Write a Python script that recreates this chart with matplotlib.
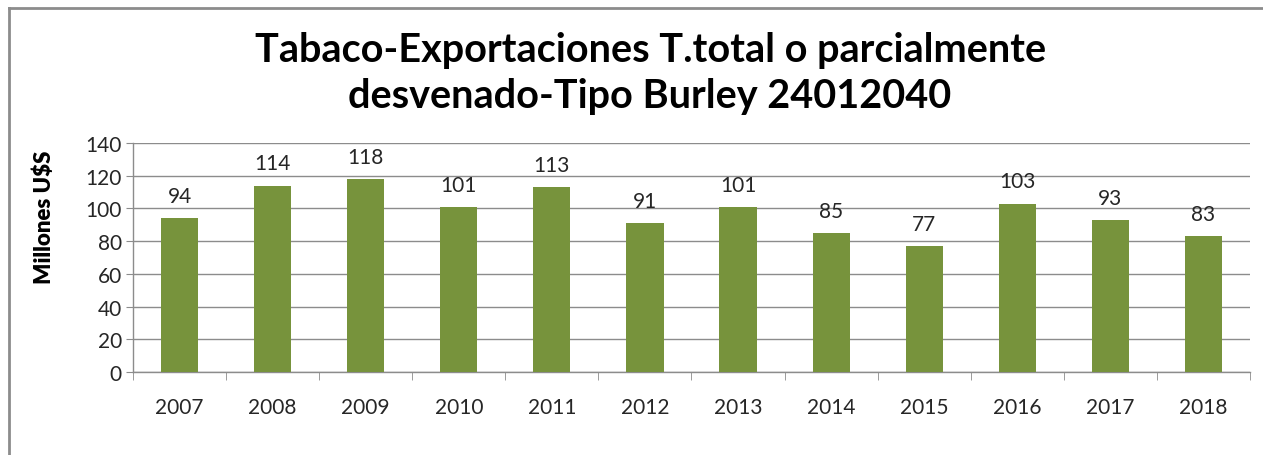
import matplotlib
matplotlib.use('Agg')
import matplotlib.pyplot as plt
from matplotlib.lines import Line2D
import numpy as np

plt.rcParams['font.family'] = ['Lato', 'DejaVu Sans']

# Datos
anios = ['2007', '2008', '2009', '2010', '2011', '2012',
         '2013', '2014', '2015', '2016', '2017', '2018']
valores = [94, 114, 118, 101, 113, 91, 101, 85, 77, 103, 93, 83]
y_ticks = [0, 20, 40, 60, 80, 100, 120, 140]

COLOR_BARRA = '#77933C'
COLOR_GRILLA = '#8C8C8C'
COLOR_TEXTO = '#262626'

fig = plt.figure(figsize=(12.63, 4.56), dpi=100)
ax = fig.add_axes([0.1053, 0.182, 0.8844, 0.502])

x = np.arange(len(anios))
barras = ax.bar(x, valores, width=0.4, color=COLOR_BARRA, zorder=3)

# Etiquetas de valor sobre las barras
for xi, v in zip(x, valores):
    ax.annotate(str(v), (xi, v), xytext=(0, 16), textcoords='offset points',
                ha='center', va='center', fontsize=15, color=COLOR_TEXTO,
                zorder=4)

ax.set_xlim(-0.5, len(anios) - 0.5)
ax.set_ylim(0, 140)
ax.set_yticks(y_ticks)
ax.set_xticks(x)
ax.set_xticklabels(anios)
ax.set_xticks(np.arange(-0.5, len(anios), 1.0), minor=True)

ax.yaxis.grid(True, color=COLOR_GRILLA, linewidth=1.0, zorder=0)
ax.set_axisbelow(True)

for lado in ['top', 'right']:
    ax.spines[lado].set_visible(False)
for lado in ['left', 'bottom']:
    ax.spines[lado].set_color(COLOR_GRILLA)
    ax.spines[lado].set_linewidth(1.0)

ax.tick_params(axis='y', length=5, color=COLOR_GRILLA, labelsize=15,
               labelcolor=COLOR_TEXTO, pad=3)
ax.tick_params(axis='x', which='major', length=0, labelsize=15,
               labelcolor=COLOR_TEXTO, pad=18)
ax.tick_params(axis='x', which='minor', length=6, color=COLOR_GRILLA)

ax.set_ylabel('Millones U$S', fontsize=16, fontweight='heavy',
              color='black')
ax.yaxis.set_label_coords(-0.070, 0.68)

fig.text(0.5147, 0.838, 'Tabaco-Exportaciones T.total o parcialmente\ndesvenado-Tipo Burley 24012040',
         ha='center', va='center', fontsize=28.5, fontweight='bold',
         color='black', linespacing=1.3)

# Borde del grafico (arriba e izquierda)
fig.add_artist(Line2D([9 / 1263, 1.0], [1 - 9 / 456, 1 - 9 / 456],
                      transform=fig.transFigure, color='#8C8C8C', linewidth=2))
fig.add_artist(Line2D([9 / 1263, 9 / 1263], [0.0, 1 - 9 / 456],
                      transform=fig.transFigure, color='#8C8C8C', linewidth=2))

fig.savefig('out.png', dpi=100, facecolor='white')
plt.close(fig)
